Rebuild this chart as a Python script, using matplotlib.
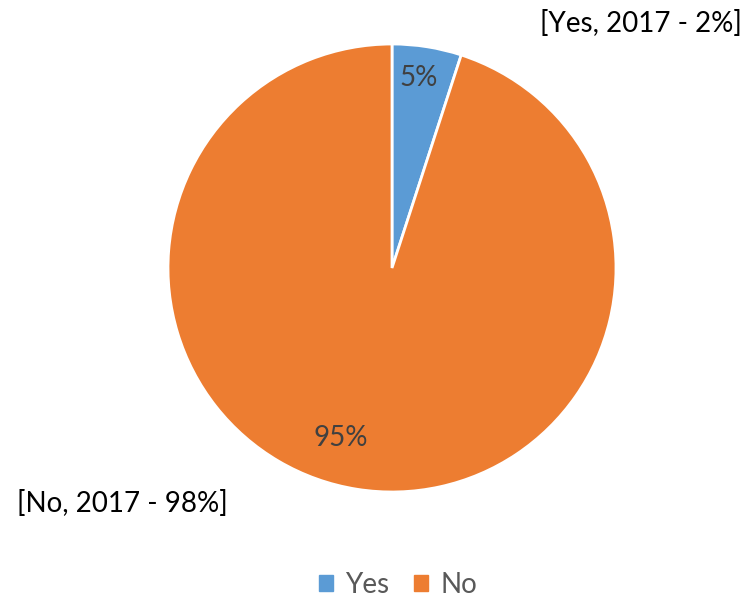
import matplotlib
matplotlib.use("Agg")
import matplotlib.pyplot as plt
import matplotlib.patches as mpatches

plt.rcParams['font.family'] = ['Lato', 'DejaVu Sans']

labels = ["Yes", "No"]
shares = [5, 95]
colors = ["#5B9BD5", "#ED7D31"]
callouts = ["[Yes, 2017 - 2%]", "[No, 2017 - 98%]"]

fig = plt.figure(figsize=(7.49, 6.00), dpi=100)

# pie axes: centre at (392, 268) px, radius 224 px
cx, cy, r = 392, 268, 224
ax = fig.add_axes([(cx - r) / 749, (600 - cy - r) / 600, 2 * r / 749, 2 * r / 600])

wedges, texts, pcts = ax.pie(
    shares, colors=colors, startangle=90, counterclock=False,
    autopct="%d%%", pctdistance=0.85,
    wedgeprops=dict(edgecolor="white", linewidth=2),
    textprops=dict(color="#404040", fontsize=20),
)
pcts[0].set_position((0.12, 0.85))
pcts[1].set_position((-0.23, -0.76))
ax.set_xlim(-1, 1)
ax.set_ylim(-1, 1)
ax.set_aspect("equal")

# data callouts from the previous year
fig.text(641 / 749, 1 - 24 / 600, callouts[0], ha="center", va="center",
         fontsize=20, color="black")
fig.text(122 / 749, 1 - 504 / 600, callouts[1], ha="center", va="center",
         fontsize=20, color="black")

handles = [mpatches.Patch(color=c, label=l) for c, l in zip(colors, labels)]
fig.legend(handles=handles, loc="center", bbox_to_anchor=(398 / 749, 1 - 585 / 600),
           ncol=2, frameon=False, fontsize=20, labelcolor="#595959",
           handlelength=0.5, handleheight=0.5, handletextpad=0.45, columnspacing=0.9)

fig.savefig("out.png", dpi=100)
